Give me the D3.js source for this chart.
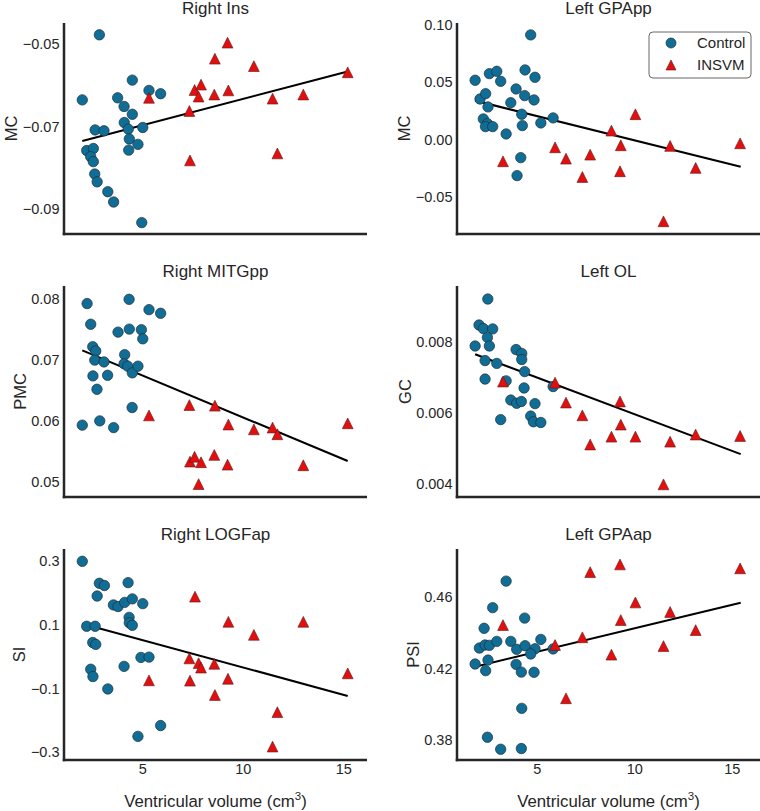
<!DOCTYPE html>
<html><head><meta charset="utf-8">
<script src="https://cdn.jsdelivr.net/npm/d3@7"></script>
<style>
body{margin:0;background:#fff}
text{font-family:"Liberation Sans",Arial,sans-serif;fill:#262626}
</style>
</head><body>
<svg id="chart" width="760" height="811"></svg>
<script>
// ---------------- data ----------------
const xTicks = [5, 10, 15];
const groups = ["Control", "INSVM"];

const rightInsControl = [[2.86,-0.0477],[2.01,-0.0635],[2.65,-0.0708],[3.09,-0.0710],[2.23,-0.0758],[2.56,-0.0753],[2.43,-0.0773],[2.56,-0.0785],[2.63,-0.0815],[2.75,-0.0834],[3.28,-0.0858],[3.57,-0.0883],[4.97,-0.0933],[4.50,-0.0587],[3.77,-0.0630],[4.09,-0.0651],[4.50,-0.0670],[4.10,-0.0690],[4.30,-0.0706],[4.35,-0.0730],[4.32,-0.0757],[4.78,-0.0743],[5.02,-0.0702],[5.33,-0.0612],[5.91,-0.0620]];
const rightInsINSVM = [[5.33,-0.0630],[7.34,-0.0662],[7.37,-0.0782],[7.60,-0.0611],[7.80,-0.0627],[7.92,-0.0598],[8.58,-0.0622],[8.61,-0.0535],[9.24,-0.0496],[9.28,-0.0612],[10.55,-0.0553],[11.48,-0.0632],[11.72,-0.0765],[13.01,-0.0622],[15.22,-0.0568]];
const rightInsFit = [[2.01,-0.0735],[15.22,-0.0566]];
const rightInsTicks = [-0.09,-0.07,-0.05];

const leftGPAppControl = [[4.69,0.0913],[1.84,0.0517],[2.57,0.0575],[2.95,0.0595],[3.15,0.0508],[4.40,0.0607],[4.91,0.0543],[2.09,0.0353],[2.38,0.0400],[2.50,0.0284],[2.26,0.0179],[2.47,0.0138],[2.37,0.0112],[2.74,0.0112],[3.94,0.0441],[4.38,0.0383],[4.86,0.0345],[3.67,0.0321],[4.23,0.0220],[4.26,0.0121],[5.21,0.0144],[5.84,0.0188],[3.43,0.0048],[4.18,-0.0159],[3.99,-0.0316]];
const leftGPAppINSVM = [[3.27,-0.0191],[5.94,-0.0069],[6.50,-0.0168],[7.34,-0.0328],[7.74,-0.0133],[8.83,0.0077],[9.27,-0.0278],[9.31,-0.0051],[10.06,0.0220],[11.50,-0.0715],[11.84,-0.0057],[13.15,-0.0249],[15.43,-0.0034]];
const leftGPAppFit = [[1.84,0.0339],[15.46,-0.0238]];
const leftGPAppTicks = [-0.05,0.00,0.05,0.10];

const rightMITGppControl = [[2.25,0.0793],[2.43,0.0759],[2.53,0.0722],[2.68,0.0715],[2.63,0.0700],[3.09,0.0697],[2.54,0.0674],[3.27,0.0675],[2.74,0.0652],[2.01,0.0593],[2.88,0.0600],[3.57,0.0589],[4.34,0.0800],[3.79,0.0746],[4.35,0.0751],[4.95,0.0750],[5.02,0.0735],[5.33,0.0783],[5.91,0.0777],[4.12,0.0709],[4.09,0.0694],[4.27,0.0690],[4.50,0.0679],[4.78,0.0690],[4.49,0.0622]];
const rightMITGppINSVM = [[5.33,0.0609],[7.34,0.0626],[7.37,0.0533],[7.60,0.0541],[7.92,0.0532],[7.80,0.0496],[8.61,0.0625],[8.58,0.0544],[9.28,0.0594],[9.24,0.0528],[10.55,0.0586],[11.48,0.0589],[11.72,0.0578],[13.01,0.0527],[15.22,0.0596]];
const rightMITGppFit = [[2.01,0.0716],[15.22,0.0534]];
const rightMITGppTicks = [0.05,0.06,0.07,0.08];

const leftOLControl = [[2.49,0.00920],[2.04,0.00847],[2.26,0.00837],[2.74,0.00836],[2.47,0.00812],[1.84,0.00788],[2.57,0.00788],[2.35,0.00747],[2.95,0.00739],[2.35,0.00695],[3.43,0.00690],[3.94,0.00778],[4.23,0.00767],[4.23,0.00750],[4.38,0.00716],[4.35,0.00670],[3.67,0.00636],[3.97,0.00627],[4.21,0.00632],[4.91,0.00626],[4.69,0.00591],[4.83,0.00575],[5.21,0.00573],[3.15,0.00581],[5.84,0.00674]];
const leftOLINSVM = [[3.27,0.00688],[5.94,0.00685],[6.50,0.00629],[7.34,0.00593],[7.74,0.00511],[8.83,0.00533],[9.27,0.00632],[9.31,0.00567],[10.06,0.00533],[11.50,0.00399],[11.84,0.00519],[13.15,0.00539],[15.43,0.00535]];
const leftOLFit = [[1.84,0.00765],[15.46,0.00484]];
const leftOLTicks = [0.004,0.006,0.008];

const rightLOGFapControl = [[2.01,0.300],[2.86,0.231],[3.11,0.224],[2.75,0.191],[4.29,0.233],[3.56,0.163],[3.79,0.158],[4.12,0.171],[4.50,0.182],[5.02,0.167],[4.34,0.124],[4.35,0.107],[4.50,0.099],[2.23,0.096],[2.65,0.096],[2.53,0.045],[2.68,0.039],[2.43,-0.039],[2.54,-0.062],[3.28,-0.101],[4.09,-0.030],[4.93,-0.002],[5.33,-0.001],[5.91,-0.216],[4.78,-0.250]];
const rightLOGFapINSVM = [[5.33,-0.074],[7.34,-0.005],[7.37,-0.075],[7.62,0.189],[7.80,-0.020],[7.92,-0.034],[8.58,-0.022],[8.61,-0.120],[9.28,0.110],[9.26,-0.069],[10.55,0.069],[11.48,-0.282],[11.72,-0.174],[13.01,0.110],[15.22,-0.052]];
const rightLOGFapFit = [[2.01,0.104],[15.22,-0.123]];
const rightLOGFapTicks = [-0.3,-0.1,0.1,0.3];

const leftGPAapControl = [[3.43,0.4687],[2.74,0.4539],[4.38,0.4481],[2.30,0.4424],[2.06,0.4314],[2.35,0.4331],[2.57,0.4329],[2.95,0.4351],[3.67,0.4351],[3.97,0.4307],[4.40,0.4327],[4.91,0.4310],[4.69,0.4281],[5.21,0.4362],[5.84,0.4309],[1.84,0.4225],[2.50,0.4247],[2.38,0.4188],[3.94,0.4223],[4.21,0.4180],[4.86,0.4179],[4.23,0.3978],[2.47,0.3817],[3.15,0.3750],[4.21,0.3754]];
const leftGPAapINSVM = [[3.27,0.4442],[5.94,0.4331],[6.50,0.4034],[7.34,0.4374],[7.74,0.4737],[8.83,0.4277],[9.27,0.4780],[9.31,0.4470],[10.06,0.4568],[11.50,0.4325],[11.84,0.4515],[13.15,0.4414],[15.43,0.4758]];
const leftGPAapFit = [[1.84,0.4210],[15.46,0.4567]];
const leftGPAapTicks = [0.38,0.42,0.46];

// ---------------- layout / styles ----------------
const colX = [64, 457], axW = 303;
const rowY = [23, 286, 549], axH = 211;
const xDomains = [[1.10, 16.18], [0.91, 16.45]];
const blue = "#106d96", red = "#e30f0f";

const panels = [
  {title:"Right Ins", ylab:"MC", col:0, row:0, yDom:[-0.09607,-0.04483], ticks:rightInsTicks, fmt:".2f", c:rightInsControl, t:rightInsINSVM, fit:rightInsFit},
  {title:"Left GPApp", ylab:"MC", col:1, row:0, yDom:[-0.0826,0.1017], ticks:leftGPAppTicks, fmt:".2f", c:leftGPAppControl, t:leftGPAppINSVM, fit:leftGPAppFit, legend:true},
  {title:"Right MITGpp", ylab:"PMC", col:0, row:1, yDom:[0.04748,0.08219], ticks:rightMITGppTicks, fmt:".2f", c:rightMITGppControl, t:rightMITGppINSVM, fit:rightMITGppFit},
  {title:"Left OL", ylab:"GC", col:1, row:1, yDom:[0.003635,0.009566], ticks:leftOLTicks, fmt:".3f", c:leftOLControl, t:leftOLINSVM, fit:leftOLFit},
  {title:"Right LOGFap", ylab:"SI", col:0, row:2, yDom:[-0.3242,0.3387], ticks:rightLOGFapTicks, fmt:".1f", c:rightLOGFapControl, t:rightLOGFapINSVM, fit:rightLOGFapFit},
  {title:"Left GPAap", ylab:"PSI", col:1, row:2, yDom:[0.3690,0.4866], ticks:leftGPAapTicks, fmt:".2f", c:leftGPAapControl, t:leftGPAapINSVM, fit:leftGPAapFit}
];

const svg = d3.select("#chart");
const triPath = s => `M0,${-s}L${s},${s}L${-s},${s}Z`;

panels.forEach(p => {
  const x0 = colX[p.col], y0 = rowY[p.row];
  const x = d3.scaleLinear().domain(xDomains[p.col]).range([x0, x0 + axW]);
  const y = d3.scaleLinear().domain(p.yDom).range([y0 + axH, y0]);
  const g = svg.append("g");

  g.append("text").attr("x", x0 + axW/2).attr("y", y0 - 9.5)
    .attr("text-anchor","middle").style("font-size","17px").text(p.title);

  const yAxis = d3.axisLeft(y).tickValues(p.ticks).tickFormat(d3.format(p.fmt)).tickSize(0).tickPadding(4.5);
  const ya = g.append("g").attr("transform",`translate(${x0},0)`).call(yAxis);
  ya.select(".domain").remove();
  ya.selectAll("text").style("font-size","14.5px").attr("fill","#262626")
    .style("font-family","'Liberation Sans',Arial,sans-serif");

  if (p.row === 2) {
    const xAxis = d3.axisBottom(x).tickValues(xTicks).tickSize(0).tickPadding(4);
    const xa = g.append("g").attr("transform",`translate(0,${y0+axH})`).call(xAxis);
    xa.select(".domain").remove();
    xa.selectAll("text").style("font-size","14.5px").attr("fill","#262626")
      .style("font-family","'Liberation Sans',Arial,sans-serif");
    const xl = g.append("text").attr("x", x0 + axW/2).attr("y", 807)
      .attr("text-anchor","middle").style("font-size","16.8px");
    xl.append("tspan").text("Ventricular volume (cm");
    xl.append("tspan").attr("dy",-7).style("font-size","11.5px").text("3");
    xl.append("tspan").attr("dy",7).text(")");
  }

  const bb = ya.node().getBBox();
  const lx = bb.x + x0 - 5.5;
  g.append("text").attr("transform",`translate(${lx},${y0+axH/2}) rotate(-90)`)
    .attr("text-anchor","middle").style("font-size","16.5px").text(p.ylab);

  g.append("path").datum(p.fit)
    .attr("d", d3.line().x(d=>x(d[0])).y(d=>y(d[1])))
    .attr("stroke","#000").attr("stroke-width",2.1).attr("fill","none");

  g.selectAll("circle.c").data(p.c).join("circle").attr("class","c")
    .attr("cx",d=>x(d[0])).attr("cy",d=>y(d[1])).attr("r",5.2)
    .attr("fill",blue).attr("stroke","#1f2f38").attr("stroke-width",0.7);

  g.selectAll("path.t").data(p.t).join("path").attr("class","t")
    .attr("transform",d=>`translate(${x(d[0])},${y(d[1])})`)
    .attr("d",triPath(5.4))
    .attr("fill",red).attr("stroke","#5a1a1a").attr("stroke-width",0.6);

  g.append("line").attr("x1",x0).attr("x2",x0).attr("y1",y0).attr("y2",y0+axH+1.25)
    .attr("stroke","#262626").attr("stroke-width",2.5);
  g.append("line").attr("x1",x0-1.25).attr("x2",x0+axW).attr("y1",y0+axH).attr("y2",y0+axH)
    .attr("stroke","#262626").attr("stroke-width",2.5);

  if (p.legend) {
    const lg = g.append("g");
    lg.append("rect").attr("x",649).attr("y",32).attr("width",102).attr("height",46).attr("rx",4)
      .attr("fill","#fff").attr("stroke","#555").attr("stroke-width",0.9);
    groups.forEach((name,i) => {
      const cy = 43 + i*22;
      if (i === 0) lg.append("circle").attr("cx",671).attr("cy",cy).attr("r",5)
        .attr("fill",blue).attr("stroke","#1f2f38").attr("stroke-width",0.7);
      else lg.append("path").attr("transform",`translate(671,${cy})`).attr("d",triPath(5))
        .attr("fill",red).attr("stroke","#5a1a1a").attr("stroke-width",0.6);
      lg.append("text").attr("x",697).attr("y",cy+5.3).style("font-size","15px").text(name);
    });
  }
});
</script>
</body></html>
